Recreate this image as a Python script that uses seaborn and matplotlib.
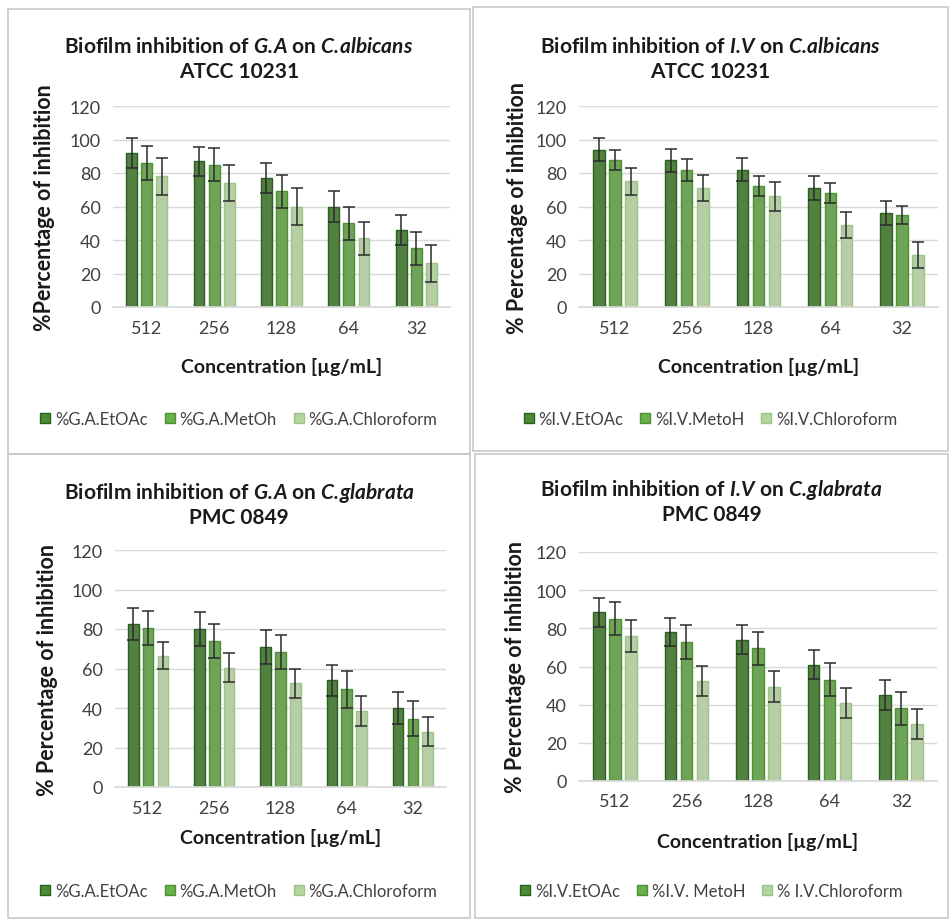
import seaborn as sns
import matplotlib.pyplot as plt
import pandas as pd
from matplotlib.patches import Rectangle

# concentrations on the x axis
conc = ['512', '256', '128', '64', '32']

# G.A on C.albicans ATCC 10231
ga_alb_etoac = [92, 87, 77, 60, 46]
ga_alb_metoh = [86, 85, 69, 50, 35]
ga_alb_chlor = [78, 74, 60, 41, 26]
ga_alb_etoac_err = [9, 8.5, 9, 9, 9]
ga_alb_metoh_err = [10, 10, 10, 10, 10]
ga_alb_chlor_err = [11, 11, 11, 10, 11]

# I.V on C.albicans ATCC 10231
iv_alb_etoac = [94, 87.5, 82, 71, 56]
iv_alb_metoh = [87.5, 82, 72.5, 68, 55]
iv_alb_chlor = [75, 71, 66, 49, 31]
iv_alb_etoac_err = [7, 7, 7, 7, 7]
iv_alb_metoh_err = [6, 6.5, 6, 6, 5.5]
iv_alb_chlor_err = [8, 8, 8.5, 8, 8]

# G.A on C.glabrata PMC 0849
ga_gla_etoac = [82.5, 80, 71, 54, 40]
ga_gla_metoh = [80.5, 74, 68.5, 49.5, 34.5]
ga_gla_chlor = [66.5, 60.5, 52.5, 38.5, 28]
ga_gla_etoac_err = [8, 8.5, 8.5, 8, 8.3]
ga_gla_metoh_err = [8.6, 8.6, 8.6, 9.3, 8.8]
ga_gla_chlor_err = [7, 7.4, 7.4, 7.6, 7.4]

# I.V on C.glabrata PMC 0849
iv_gla_etoac = [88.3, 78, 74, 61, 45]
iv_gla_metoh = [85, 73, 69.5, 53, 38]
iv_gla_chlor = [76, 52.5, 49.5, 41, 30]
iv_gla_etoac_err = [7.7, 7.4, 7.7, 7.8, 7.9]
iv_gla_metoh_err = [8.6, 8.9, 8.5, 8.7, 8.4]
iv_gla_chlor_err = [8.4, 7.7, 8.2, 7.9, 7.9]

ga_legend = ['%G.A.EtOAc', '%G.A.MetOh', '%G.A.Chloroform']
iv_legend_top = ['%I.V.EtOAc', '%I.V.MetoH', '%I.V.Chloroform']
iv_legend_bot = ['%I.V.EtOAc', '%I.V. MetoH', '% I.V.Chloroform']

fills = ['#4c8a37', '#6ab04a', '#b3d59e']
edges = ['#2a6020', '#4a9232', '#9cc585']

sns.set_theme(style='white')
plt.rcParams['font.family'] = ['Lato', 'DejaVu Sans']
plt.rcParams['mathtext.fontset'] = 'custom'
plt.rcParams['mathtext.rm'] = 'Lato:bold'
plt.rcParams['mathtext.bf'] = 'Lato:bold'
plt.rcParams['mathtext.bfit'] = 'Lato:italic:bold'

fig = plt.figure(figsize=(9.49, 9.20), dpi=100)
W, H = 949, 920

panels = [
    dict(vals=[ga_alb_etoac, ga_alb_metoh, ga_alb_chlor],
         errs=[ga_alb_etoac_err, ga_alb_metoh_err, ga_alb_chlor_err],
         names=ga_legend, org=r'G.\!A', sp=r'C.\!albicans', strain='ATCC 10231',
         ylabel='%Percentage of inhibition',
         box=(8, 10, 470, 455), ax=(113, 107, 450, 308),
         title_y=47, xlab_y=367, leg_y=420, ylab_x=45),
    dict(vals=[iv_alb_etoac, iv_alb_metoh, iv_alb_chlor],
         errs=[iv_alb_etoac_err, iv_alb_metoh_err, iv_alb_chlor_err],
         names=iv_legend_top, org=r'I.\!V', sp=r'C.\!albicans', strain='ATCC 10231',
         ylabel='% Percentage of inhibition',
         box=(473, 8, 948, 452), ax=(579, 107, 938, 308),
         title_y=47, xlab_y=367, leg_y=420, ylab_x=517),
    dict(vals=[ga_gla_etoac, ga_gla_metoh, ga_gla_chlor],
         errs=[ga_gla_etoac_err, ga_gla_metoh_err, ga_gla_chlor_err],
         names=ga_legend, org=r'G.\!A', sp=r'C.\!glabrata', strain='PMC 0849',
         ylabel='% Percentage of inhibition',
         box=(8, 455, 470, 919), ax=(115, 551, 446, 788),
         title_y=493, xlab_y=838, leg_y=892, ylab_x=48),
    dict(vals=[iv_gla_etoac, iv_gla_metoh, iv_gla_chlor],
         errs=[iv_gla_etoac_err, iv_gla_metoh_err, iv_gla_chlor_err],
         names=iv_legend_bot, org=r'I.\!V', sp=r'C.\!glabrata', strain='PMC 0849',
         ylabel='% Percentage of inhibition',
         box=(475, 455, 948, 919), ax=(579, 553, 937, 782),
         title_y=490, xlab_y=842, leg_y=892, ylab_x=515),
]

for p in panels:
    bx0, by0, bx1, by1 = p['box']
    fig.add_artist(Rectangle((bx0 / W, 1 - by1 / H), (bx1 - bx0) / W, (by1 - by0) / H,
                             transform=fig.transFigure, fill=False,
                             edgecolor='#c8c8c8', linewidth=1.2))
    x0, y0, x1, y1 = p['ax']
    ax = fig.add_axes([x0 / W, 1 - y1 / H, (x1 - x0) / W, (y1 - y0) / H])

    rows = []
    for name, vs in zip(p['names'], p['vals']):
        for c, v in zip(conc, vs):
            rows.append({'conc': c, 'extract': name, 'value': v})
    df = pd.DataFrame(rows)

    sns.barplot(data=df, x='conc', y='value', hue='extract', order=conc,
                hue_order=p['names'], palette=fills, width=0.67, gap=0.28,
                errorbar=None, legend=False, ax=ax, linewidth=1)
    bar_sets = list(ax.containers)
    for k, cont in enumerate(bar_sets):
        xs = []
        for bar in cont:
            bar.set_edgecolor(edges[k])
            xs.append(bar.get_x() + bar.get_width() / 2)
        ax.errorbar(xs, p['vals'][k], yerr=p['errs'][k], fmt='none',
                    ecolor='#2b2b2b', elinewidth=1.1, capsize=4, capthick=1.1, zorder=5)

    ax.set_ylim(0, 120)
    ax.set_yticks(range(0, 121, 20))
    ax.set_xlim(-0.5, 4.5)
    ax.yaxis.grid(True, color='#d9d9d9', linewidth=1)
    ax.set_axisbelow(True)
    sns.despine(ax=ax, left=True, bottom=False)
    ax.spines['bottom'].set_color('#d9d9d9')
    ax.tick_params(axis='both', labelsize=13, colors='#404040', length=0, pad=9)
    ax.set_xlabel('')
    ax.set_ylabel('')

    cx = (bx0 + bx1) / 2 / W
    fig.text(cx, 1 - p['title_y'] / H,
             'Biofilm inhibition of $\\mathbfit{' + p['org'] + '}$ on $\\mathbfit{' + p['sp'] + '}$',
             ha='center', va='center', fontsize=15, fontweight='bold', color='#1a1a1a')
    fig.text(cx, 1 - (p['title_y'] + 25) / H, p['strain'],
             ha='center', va='center', fontsize=15, fontweight='bold', color='#1a1a1a')
    fig.text((x0 + x1) / 2 / W, 1 - p['xlab_y'] / H, 'Concentration [µg/mL]',
             ha='center', va='center', fontsize=14, fontweight='bold', color='#1a1a1a')
    fig.text(p['ylab_x'] / W, 1 - (y0 + y1) / 2 / H, p['ylabel'], rotation=90,
             ha='center', va='center', fontsize=15.5, fontweight='bold', color='#1a1a1a')

    handles = [Rectangle((0, 0), 1, 1, facecolor=fills[k], edgecolor=edges[k]) for k in range(3)]
    fig.legend(handles, p['names'], loc='center', ncol=3, frameon=False,
               bbox_to_anchor=(cx, 1 - p['leg_y'] / H), fontsize=12,
               handlelength=0.6, handleheight=0.6, handletextpad=0.3,
               columnspacing=1.0, labelcolor='#404040')

fig.savefig('out.png', dpi=100, facecolor='white')
